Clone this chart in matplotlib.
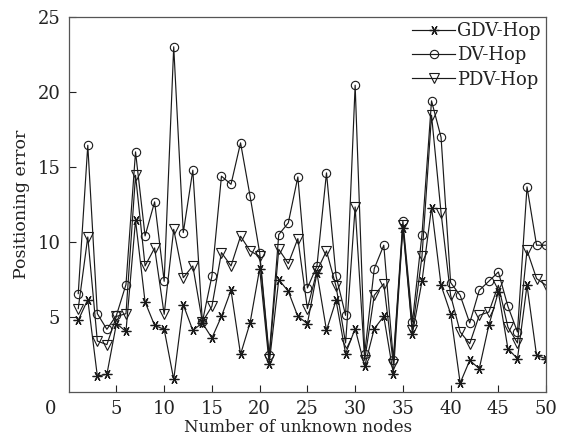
import matplotlib
matplotlib.use("Agg")
import matplotlib.pyplot as plt
import numpy as np

nodes = list(range(1, 51))
gdv_hop = [4.78, 6.16, 1.07, 1.18, 4.56, 4.04, 11.44, 6.0, 4.44, 4.18,
           0.84, 5.82, 4.11, 4.6, 3.6, 5.04, 6.78, 2.51, 4.62, 8.22,
           1.89, 7.49, 6.71, 5.04, 4.56, 7.93, 4.11, 6.11, 2.56, 4.22,
           1.73, 4.22, 5.04, 1.22, 10.96, 3.89, 7.38, 12.29, 7.11, 5.22,
           0.6, 2.11, 1.56, 4.44, 6.67, 2.89, 2.22, 7.11, 2.44, 2.22]
dv_hop = [6.56, 16.44, 5.22, 4.18, 5.11, 7.16, 16.0, 10.4, 12.67, 7.38,
          23.0, 10.62, 14.78, 4.67, 7.73, 14.38, 13.84, 16.6, 13.04, 9.29,
          2.44, 10.49, 11.27, 14.33, 6.93, 8.4, 14.6, 7.73, 5.11, 20.44,
          2.56, 8.22, 9.78, 2.16, 11.4, 4.67, 10.49, 19.4, 16.96, 7.29,
          6.44, 4.6, 6.78, 7.38, 8.0, 5.71, 4.0, 13.67, 9.78, 9.78]
pdv_hop = [5.56, 10.33, 3.4, 3.16, 5.04, 5.22, 14.44, 8.4, 9.6, 5.18,
           10.84, 7.62, 8.4, 4.67, 5.71, 9.29, 8.4, 10.38, 9.4, 9.04,
           2.22, 9.51, 8.56, 10.22, 5.56, 8.07, 9.4, 7.04, 3.27, 12.33,
           2.11, 6.44, 7.22, 1.89, 11.11, 4.11, 9.04, 18.44, 11.93, 6.44,
           4.0, 3.22, 5.11, 5.33, 7.11, 4.33, 3.27, 9.44, 7.56, 7.11]

xticks = [5, 10, 15, 20, 25, 30, 35, 40, 45, 50]
yticks = [5, 10, 15, 20, 25]

plt.rcParams['font.family'] = ['DejaVu Serif']
fig = plt.figure(figsize=(5.63, 4.41), dpi=100)
ax = fig.add_axes([0.122, 0.111, 0.848, 0.851])

col = '#1a1a1a'
lw = 0.85
ax.plot(nodes, gdv_hop, color=col, lw=lw, marker=(6, 2, 90), ms=7,
        mec=col, mew=0.9, label='GDV-Hop')
ax.plot(nodes, dv_hop, color=col, lw=lw, marker='o', ms=6,
        mfc='none', mec=col, mew=0.8, label='DV-Hop')
ax.plot(nodes, pdv_hop, color=col, lw=lw, marker='v', ms=7,
        mfc='none', mec=col, mew=0.8, label='PDV-Hop')

ax.set_xlim(0, 50)
ax.set_ylim(0, 25)
ax.set_xticks(xticks)
ax.set_yticks(yticks)
ax.tick_params(direction='in', length=5, width=0.8, labelsize=13,
               colors='#222222', pad=6)
for s in ax.spines.values():
    s.set_color('#555555')
    s.set_linewidth(0.9)

ax.text(-0.025, -0.02, '0', transform=ax.transAxes, fontsize=13,
        ha='right', va='top', color='#222222')

ax.set_xlabel('Number of unknown nodes', fontsize=12, labelpad=1,
              color='#222222')
ax.xaxis.set_label_coords(0.48, -0.072, transform=ax.transAxes)
ax.xaxis.label.set_va('top')
ax.set_ylabel('Positioning error', fontsize=12.5, labelpad=5,
              color='#222222')

leg = ax.legend(loc='upper right', frameon=False, fontsize=13,
                borderaxespad=0.1, handlelength=2.4, handletextpad=0.1,
                labelspacing=0.35, borderpad=0.2)
for t in leg.get_texts():
    t.set_color('#222222')

fig.savefig('out.png', dpi=100)
